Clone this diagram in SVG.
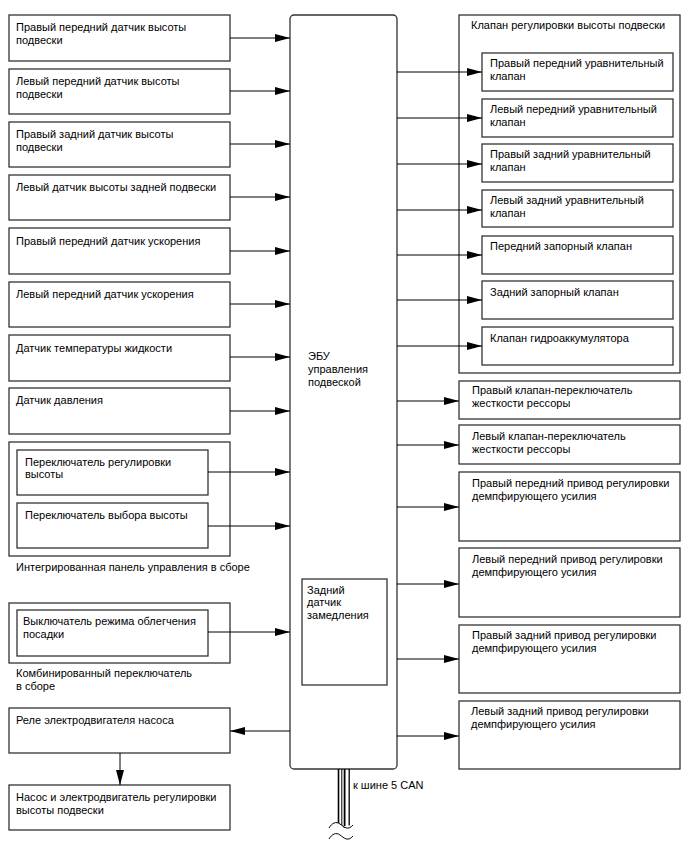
<svg xmlns="http://www.w3.org/2000/svg" width="688" height="852" viewBox="0 0 688 852">
<defs>
<style>
.b{fill:#fff;stroke:#333;stroke-width:1.3}
.g{fill:none;stroke:#333;stroke-width:1.3}
.c{fill:none;stroke:#000;stroke-width:1}
text{font-family:"Liberation Sans",Arial,sans-serif;font-size:11px;fill:#000}
</style>
<marker id="ah" markerUnits="userSpaceOnUse" markerWidth="16" markerHeight="9" refX="15" refY="4" orient="auto">
<path d="M0,0 L15,4 L0,8 z" fill="#000"/>
</marker>
</defs>
<rect width="688" height="852" fill="#fff"/>

<g id="ecu">
<rect class="b" x="290" y="15" width="107" height="754" rx="4"/>
<text x="308" y="359.5">ЭБУ</text>
<text x="308" y="372.5">управления</text>
<text x="308" y="385.5">подвеской</text>
</g>
<g id="decel">
<rect class="b" x="302" y="579" width="85" height="106"/>
<text x="307" y="593.5">Задний</text>
<text x="307" y="606">датчик</text>
<text x="307" y="618.5">замедления</text>
</g>

<g id="s1"><rect class="b" x="9" y="15" width="221" height="46"/><text x="16" y="31">Правый передний датчик высоты</text><text x="16" y="44">подвески</text></g>
<g id="s2"><rect class="b" x="9" y="69" width="221" height="45"/><text x="16" y="84.5">Левый передний датчик высоты</text><text x="16" y="97.5">подвески</text></g>
<g id="s3"><rect class="b" x="9" y="122" width="221" height="45"/><text x="16" y="137.5">Правый задний датчик высоты</text><text x="16" y="150.5">подвески</text></g>
<g id="s4"><rect class="b" x="9" y="175" width="221" height="45"/><text x="16" y="190.5">Левый датчик высоты задней подвески</text></g>
<g id="s5"><rect class="b" x="9" y="228" width="221" height="46"/><text x="16" y="245">Правый передний датчик ускорения</text></g>
<g id="s6"><rect class="b" x="9" y="282" width="221" height="45"/><text x="16" y="298">Левый передний датчик ускорения</text></g>
<g id="s7"><rect class="b" x="9" y="335" width="221" height="46"/><text x="16" y="351.5">Датчик температуры жидкости</text></g>
<g id="s8"><rect class="b" x="9" y="388" width="221" height="46"/><text x="16" y="404">Датчик давления</text></g>

<g id="panel">
<rect class="g" x="9" y="442" width="221" height="114"/>
<text x="16" y="570.5">Интегрированная панель управления в сборе</text>
</g>
<g id="heightSw"><rect class="b" x="17" y="450" width="191" height="45"/><text x="25" y="465.5">Переключатель регулировки</text><text x="25" y="478">высоты</text></g>
<g id="heightSel"><rect class="b" x="17" y="503" width="191" height="45"/><text x="25" y="519">Переключатель выбора высоты</text></g>

<g id="combo">
<rect class="g" x="9" y="603" width="221" height="60"/>
<text x="16" y="677">Комбинированный переключатель</text>
<text x="16" y="690">в сборе</text>
</g>
<g id="easyAccess"><rect class="b" x="17" y="610" width="191" height="46"/><text x="23" y="625">Выключатель режима облегчения</text><text x="23" y="638">посадки</text></g>

<g id="relay"><rect class="b" x="9" y="708" width="221" height="45"/><text x="16" y="723.5">Реле электродвигателя насоса</text></g>
<g id="pump"><rect class="b" x="9" y="785" width="221" height="45"/><text x="16" y="801">Насос и электродвигатель регулировки</text><text x="16" y="814">высоты подвески</text></g>

<g id="valveGroup">
<rect class="g" x="459" y="15" width="221" height="358"/>
<text x="471" y="28.5">Клапан регулировки высоты подвески</text>
</g>
<g id="v1"><rect class="b" x="482" y="53" width="191" height="38"/><text x="490" y="66.5">Правый передний уравнительный</text><text x="490" y="79.5">клапан</text></g>
<g id="v2"><rect class="b" x="482" y="99" width="191" height="38"/><text x="490" y="112.5">Левый передний уравнительный</text><text x="490" y="125.5">клапан</text></g>
<g id="v3"><rect class="b" x="482" y="144" width="191" height="38"/><text x="490" y="158">Правый задний уравнительный</text><text x="490" y="171">клапан</text></g>
<g id="v4"><rect class="b" x="482" y="190" width="191" height="37"/><text x="490" y="203.5">Левый задний уравнительный</text><text x="490" y="216.5">клапан</text></g>
<g id="v5"><rect class="b" x="482" y="236" width="191" height="38"/><text x="490" y="250">Передний запорный клапан</text></g>
<g id="v6"><rect class="b" x="482" y="281" width="191" height="38"/><text x="490" y="296">Задний запорный клапан</text></g>
<g id="v7"><rect class="b" x="482" y="327" width="191" height="38"/><text x="490" y="341.5">Клапан гидроаккумулятора</text></g>

<g id="sp1"><rect class="b" x="459" y="381" width="221" height="38"/><text x="472" y="394">Правый клапан-переключатель</text><text x="472" y="407">жесткости рессоры</text></g>
<g id="sp2"><rect class="b" x="459" y="425" width="221" height="39"/><text x="472" y="439.5">Левый клапан-переключатель</text><text x="472" y="452.5">жесткости рессоры</text></g>
<g id="d1"><rect class="b" x="459" y="472" width="221" height="69"/><text x="472" y="486.5">Правый передний привод регулировки</text><text x="472" y="499.5">демпфирующего усилия</text></g>
<g id="d2"><rect class="b" x="459" y="548" width="221" height="69"/><text x="472" y="562.5">Левый передний привод регулировки</text><text x="472" y="575.5">демпфирующего усилия</text></g>
<g id="d3"><rect class="b" x="459" y="625" width="221" height="68"/><text x="472" y="638.5">Правый задний привод регулировки</text><text x="472" y="651.5">демпфирующего усилия</text></g>
<g id="d4"><rect class="b" x="459" y="701" width="221" height="68"/><text x="471" y="714.5">Левый задний привод регулировки</text><text x="471" y="727.5">демпфирующего усилия</text></g>

<g id="connectors">
<line class="c" x1="230" y1="38" x2="290" y2="38" marker-end="url(#ah)"/>
<line class="c" x1="230" y1="91" x2="290" y2="91" marker-end="url(#ah)"/>
<line class="c" x1="230" y1="144" x2="290" y2="144" marker-end="url(#ah)"/>
<line class="c" x1="230" y1="197" x2="290" y2="197" marker-end="url(#ah)"/>
<line class="c" x1="230" y1="251" x2="290" y2="251" marker-end="url(#ah)"/>
<line class="c" x1="230" y1="304" x2="290" y2="304" marker-end="url(#ah)"/>
<line class="c" x1="230" y1="357" x2="290" y2="357" marker-end="url(#ah)"/>
<line class="c" x1="230" y1="411" x2="290" y2="411" marker-end="url(#ah)"/>
<line class="c" x1="208" y1="472" x2="290" y2="472" marker-end="url(#ah)"/>
<line class="c" x1="208" y1="526" x2="290" y2="526" marker-end="url(#ah)"/>
<line class="c" x1="208" y1="632" x2="290" y2="632" marker-end="url(#ah)"/>
<line class="c" x1="290" y1="731" x2="230" y2="731" marker-end="url(#ah)"/>
<line class="c" x1="120" y1="753" x2="120" y2="785" marker-end="url(#ah)"/>

<line class="c" x1="397" y1="72" x2="482" y2="72" marker-end="url(#ah)"/>
<line class="c" x1="397" y1="118" x2="482" y2="118" marker-end="url(#ah)"/>
<line class="c" x1="397" y1="164" x2="482" y2="164" marker-end="url(#ah)"/>
<line class="c" x1="397" y1="210" x2="482" y2="210" marker-end="url(#ah)"/>
<line class="c" x1="397" y1="255" x2="482" y2="255" marker-end="url(#ah)"/>
<line class="c" x1="397" y1="300" x2="482" y2="300" marker-end="url(#ah)"/>
<line class="c" x1="397" y1="346" x2="482" y2="346" marker-end="url(#ah)"/>
<line class="c" x1="397" y1="401" x2="459" y2="401" marker-end="url(#ah)"/>
<line class="c" x1="397" y1="445" x2="459" y2="445" marker-end="url(#ah)"/>
<line class="c" x1="397" y1="507" x2="459" y2="507" marker-end="url(#ah)"/>
<line class="c" x1="397" y1="584" x2="459" y2="584" marker-end="url(#ah)"/>
<line class="c" x1="397" y1="659" x2="459" y2="659" marker-end="url(#ah)"/>
<line class="c" x1="397" y1="736" x2="459" y2="736" marker-end="url(#ah)"/>
</g>

<g id="canBus">
<line x1="338.5" y1="769" x2="338.5" y2="824" stroke="#000" stroke-width="1.6"/>
<line x1="341.8" y1="769" x2="341.8" y2="826" stroke="#000" stroke-width="1"/>
<line x1="344.6" y1="769" x2="344.6" y2="828" stroke="#000" stroke-width="1.8"/>
<line x1="349.2" y1="769" x2="349.2" y2="828" stroke="#000" stroke-width="1.3"/>
<path d="M329,828 C332,823 336,821 340,824 S348,831 353,825" fill="#fff" stroke="#000" stroke-width="1"/>
<path d="M329,839 C332,834 336,832 340,835 S348,842 353,836" fill="none" stroke="#000" stroke-width="1"/>
<text x="353" y="788.5">к шине 5 CAN</text>
</g>
</svg>
